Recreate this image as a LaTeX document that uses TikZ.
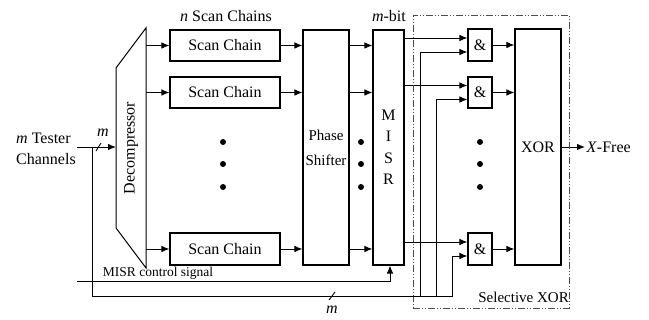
\documentclass[tikz,border=0pt]{standalone}
\usepackage{fontspec}
\setmainfont{Liberation Serif}
\usetikzlibrary{arrows.meta}
\begin{document}
\begin{tikzpicture}[x=1pt,y=-1pt,
  every node/.style={font=\fontsize{16}{21.5}\selectfont},
  box/.style={draw, line width=1.1pt, inner sep=0pt, align=center},
  arr/.style={-{Latex[length=8pt,width=6.5pt]}, line width=0.9pt},
  wire/.style={line width=0.9pt},
  selbox/.style={draw=black!70, line width=0.8pt, dash pattern=on 7pt off 2pt on 1pt off 2pt on 1pt off 2pt},
  dotf/.style={fill=black}
]
\useasboundingbox (0,0) rectangle (649,320);

% decompressor
\coordinate (d1) at (116,68);
\coordinate (d2) at (146,28);
\coordinate (d3) at (146,268);
\coordinate (d4) at (116,228);
\draw[line width=1pt] (d1)--(d2)--(d3)--(d4)--cycle;
\node[rotate=90] (dec) at (131,148) {Decompressor};

% scan chains
\node[box, minimum width=110pt, minimum height=31pt] (sc1) at (225,45.5) {Scan Chain};
\node[box, minimum width=110pt, minimum height=31pt] (sc2) at (225,92.5) {Scan Chain};
\node[box, minimum width=110pt, minimum height=32pt] (sc3) at (225,249) {Scan Chain};
\node (lsc) at (226,16) {\textit{n} Scan Chains};

\draw[arr] (d2 |- sc1) -- (sc1.west);
\draw[arr] (d2 |- sc2) -- (sc2.west);
\draw[arr] (d2 |- sc3) -- (sc3.west);

% phase shifter
\node[box, minimum width=46pt, minimum height=235pt, font=\fontsize{15}{25}\selectfont] (ps) at (326,147.5) {Phase\\Shifter};
\draw[arr] (sc1.east) -- (ps.west |- sc1.east);
\draw[arr] (sc2.east) -- (ps.west |- sc2.east);
\draw[arr] (sc3.east) -- (ps.west |- sc3.east);

% MISR
\node[box, minimum width=31pt, minimum height=235pt, font=\fontsize{16}{21.5}\selectfont] (misr) at (388.5,147.5) {M\\I\\S\\R};
\node (lmb) at (389,16) {\textit{m}-bit};
\draw[arr] (ps.east |- sc1) -- (misr.west |- sc1);
\draw[arr] (ps.east |- sc2) -- (misr.west |- sc2);
\draw[arr] (ps.east |- sc3) -- (misr.west |- sc3);

% dots
\foreach \yy in {142,164,187} {
  \fill[dotf] (223,\yy) circle (3pt);
  \fill[dotf] (361,\yy) circle (3pt);
  \fill[dotf] (480,\yy) circle (3pt);
}

% AND gates
\node[box, minimum width=24pt, minimum height=32pt] (g1) at (480,45) {\&};
\node[box, minimum width=24pt, minimum height=31pt] (g2) at (480,92.5) {\&};
\node[box, minimum width=24pt, minimum height=32pt] (g3) at (480,249) {\&};
\coordinate (g1a) at ([yshift=7pt]g1.west);
\coordinate (g1b) at ([yshift=-7pt]g1.west);
\coordinate (g2a) at ([yshift=7pt]g2.west);
\coordinate (g2b) at ([yshift=-7pt]g2.west);
\coordinate (g3a) at ([yshift=7pt]g3.west);
\coordinate (g3b) at ([yshift=-7pt]g3.west);

\draw[arr] (misr.east |- g1a) -- (g1a);
\draw[arr] (misr.east |- g2a) -- (g2a);
\draw[arr] (misr.east |- g3a) -- (g3a);

% XOR
\node[box, minimum width=46pt, minimum height=236pt] (xor) at (538,147) {XOR};
\draw[arr] (g1.east) -- (xor.west |- g1.east);
\draw[arr] (g2.east) -- (xor.west |- g2.east);
\draw[arr] (g3.east) -- (xor.west |- g3.east);
\node[anchor=west, inner sep=1.5pt] (xf) at (585,147) {\textit{X}-Free};
\draw[arr] (xor.east) -- (xf.west);

% selective XOR box
\node[selbox, minimum width=156pt, minimum height=293pt, inner sep=0pt] (sel) at (491,161.5) {};
\node[anchor=base east, inner sep=0.5pt, font=\fontsize{15}{18}\selectfont] (lsel) at (569.5,303) {Selective XOR};

% tester channels input
\node[anchor=west, align=left, inner sep=0pt] (tc) at (16,149) {\textit{m} Tester\\Channels};
\coordinate (tin) at (77,147);
\coordinate (j0) at (92,147);
\draw[arr] (tin) -- (d1 |- tin);
\draw[wire] (96,151) -- (101,143);
\node (lm1) at (103,133) {\textit{m}};

% bus to AND gates
\coordinate (v1) at (420,296);
\coordinate (v2) at (436,296);
\coordinate (v3) at (452,296);
\draw[arr] (j0) |- (v3) |- (g3b);
\draw[arr] (v1) |- (g1b);
\draw[arr] (v2) |- (g2b);
\draw[wire] (329,300) -- (335,292);
\node (lm2) at (332,310) {\textit{m}};

% MISR control signal
\coordinate (mc) at (77,281);
\draw[arr] (mc) -| ([xshift=1.5pt]misr.south);
\node[anchor=base, inner sep=0pt, font=\fontsize{13.5}{16}\selectfont] (lmc) at (158,277) {MISR control signal};
\end{tikzpicture}
\end{document}
